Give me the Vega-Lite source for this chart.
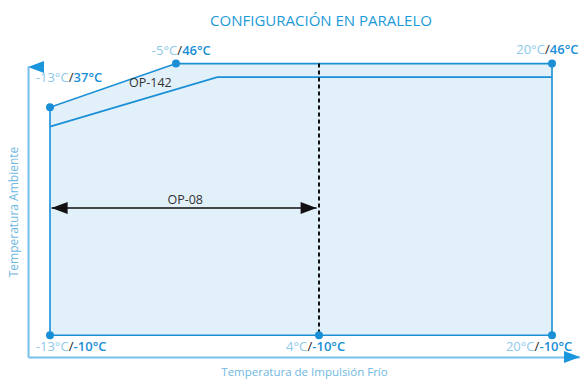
{
  "$schema": "https://vega.github.io/schema/vega-lite/v6.json",
  "width": 552,
  "height": 291,
  "autosize": {"type": "none"},
  "padding": {"left": 28, "top": 66, "right": 0, "bottom": 22},
  "background": "white",
  "title": {"text": "CONFIGURACIÓN EN PARALELO", "anchor": "middle", "dx": 17, "offset": 15, "fontSize": 15, "font": "Open Sans", "fontWeight": "normal", "color": "#1b9ad8"},
  "config": {"view": {"stroke": null}, "font": "Open Sans"},
  "datasets": {
    "area": [
      {"impulsion": -13, "ambiente": 37, "base": -10},
      {"impulsion": -5, "ambiente": 46, "base": -10},
      {"impulsion": 20, "ambiente": 46, "base": -10}
    ],
    "outline": [
      {"impulsion": -13, "ambiente": -10, "orden": 1},
      {"impulsion": -13, "ambiente": 37, "orden": 2},
      {"impulsion": -5, "ambiente": 46, "orden": 3},
      {"impulsion": 20, "ambiente": 46, "orden": 4},
      {"impulsion": 20, "ambiente": -10, "orden": 5},
      {"impulsion": -13, "ambiente": -10, "orden": 6}
    ],
    "inner": [
      {"impulsion": -13, "ambiente": 33, "orden": 1},
      {"impulsion": -2.4, "ambiente": 43.2, "orden": 2},
      {"impulsion": 20, "ambiente": 43.2, "orden": 3}
    ],
    "points": [
      {"impulsion": -13, "ambiente": -10},
      {"impulsion": -13, "ambiente": 37},
      {"impulsion": -5, "ambiente": 46},
      {"impulsion": 20, "ambiente": 46},
      {"impulsion": 20, "ambiente": -10},
      {"impulsion": 4, "ambiente": -10}
    ],
    "labels": [
      {"impulsion": -11.66, "ambiente": 43.1, "izq": "-13°C", "der": "37°C"},
      {"impulsion": -4.77, "ambiente": 48.6, "izq": "-5°C", "der": "46°C"},
      {"impulsion": 19.68, "ambiente": 48.7, "izq": "20°C", "der": "46°C"},
      {"impulsion": -11.66, "ambiente": -12.4, "izq": "-13°C", "der": "-10°C"},
      {"impulsion": 3.42, "ambiente": -12.4, "izq": "4°C", "der": "-10°C"},
      {"impulsion": 18.97, "ambiente": -12.4, "izq": "20°C", "der": "-10°C"}
    ],
    "notes": [
      {"impulsion": -6.63, "ambiente": 41.9, "texto": "OP-142"},
      {"impulsion": -4.42, "ambiente": 17.97, "texto": "OP-08"}
    ]
  },
  "encoding": {
    "x": {
      "field": "impulsion",
      "type": "quantitative",
      "scale": {"domain": [-14.4, -13, -5, 4, 20, 21.9], "range": [0, 22, 148, 291, 524, 552], "nice": false, "zero": false},
      "axis": {"domainColor": "#76c0ea", "domainWidth": 2, "ticks": false, "labels": false, "grid": false, "title": "Temperatura de Impulsión Frío", "titleColor": "#6fb8e2", "titleFont": "Open Sans", "titleFontSize": 11.5, "titleFontWeight": "normal", "titlePadding": 9}
    },
    "y": {
      "field": "ambiente",
      "type": "quantitative",
      "scale": {"domain": [-14.5, 45.5], "nice": false, "zero": false},
      "axis": {"domainColor": "#76c0ea", "domainWidth": 2, "ticks": false, "labels": false, "grid": false, "title": "Temperatura Ambiente", "titleColor": "#6fb8e2", "titleFont": "Open Sans", "titleFontSize": 12, "titleFontWeight": "normal", "titlePadding": 8}
    }
  },
  "layer": [
    {
      "data": {"name": "area"},
      "mark": {"type": "area", "color": "#e2f0fa", "opacity": 1},
      "encoding": {"y2": {"field": "base"}}
    },
    {
      "data": {"name": "inner"},
      "mark": {"type": "line", "color": "#1a8fd6", "strokeWidth": 1.6},
      "encoding": {"order": {"field": "orden"}}
    },
    {
      "data": {"name": "outline"},
      "mark": {"type": "line", "color": "#1a8fd6", "strokeWidth": 1.6},
      "encoding": {"order": {"field": "orden"}}
    },
    {
      "data": {"values": [{"impulsion": 4, "ambiente": 46, "base": -10}]},
      "mark": {"type": "rule", "color": "#111111", "strokeWidth": 2, "strokeDash": [4, 3]},
      "encoding": {"y2": {"field": "base"}}
    },
    {
      "data": {"values": [{"impulsion": -12.9, "fin": 3.85, "ambiente": 16.2}]},
      "mark": {"type": "rule", "color": "#111111", "strokeWidth": 1.5},
      "encoding": {"x2": {"field": "fin"}}
    },
    {
      "data": {"values": [{"impulsion": -12.9, "ambiente": 16.2, "dir": "izq"}, {"impulsion": 3.85, "ambiente": 16.2, "dir": "der"}]},
      "mark": {"type": "point", "filled": true, "size": 144, "color": "#111111", "opacity": 1, "strokeWidth": 0},
      "encoding": {"shape": {"field": "dir", "type": "nominal", "scale": {"domain": ["izq", "der"], "range": ["M0,0L2.67,-1L2.67,1Z", "M0,0L-2.67,-1L-2.67,1Z"]}, "legend": null}}
    },
    {
      "data": {"values": [{"impulsion": -14.4, "ambiente": 45.3, "dir": "arriba"}, {"impulsion": 21.9, "ambiente": -14.5, "dir": "derecha"}]},
      "mark": {"type": "point", "filled": true, "size": 144, "color": "#1a96dc", "opacity": 1, "strokeWidth": 0},
      "encoding": {"shape": {"field": "dir", "type": "nominal", "scale": {"domain": ["arriba", "derecha"], "range": ["M0,0L1,2.2L-1,2.2Z", "M0,0L-3,-0.9L-3,0.9Z"]}, "legend": null}}
    },
    {
      "data": {"name": "points"},
      "mark": {"type": "point", "filled": true, "size": 64, "color": "#1a8fd6", "opacity": 1}
    },
    {
      "data": {"name": "labels"},
      "mark": {"type": "text", "text": "/", "fontSize": 13, "font": "Open Sans", "color": "#222222", "align": "center", "baseline": "middle"}
    },
    {
      "data": {"name": "labels"},
      "mark": {"type": "text", "fontSize": 13, "font": "Open Sans", "color": "#8ec9ea", "align": "right", "baseline": "middle", "dx": -2.5},
      "encoding": {"text": {"field": "izq"}}
    },
    {
      "data": {"name": "labels"},
      "mark": {"type": "text", "fontSize": 13, "font": "Open Sans", "fontWeight": 600, "color": "#1a8fd6", "align": "left", "baseline": "middle", "dx": 2.5},
      "encoding": {"text": {"field": "der"}}
    },
    {
      "data": {"name": "notes"},
      "mark": {"type": "text", "fontSize": 12.5, "font": "Open Sans", "color": "#333333", "align": "center", "baseline": "middle"},
      "encoding": {"text": {"field": "texto"}}
    }
  ]
}
